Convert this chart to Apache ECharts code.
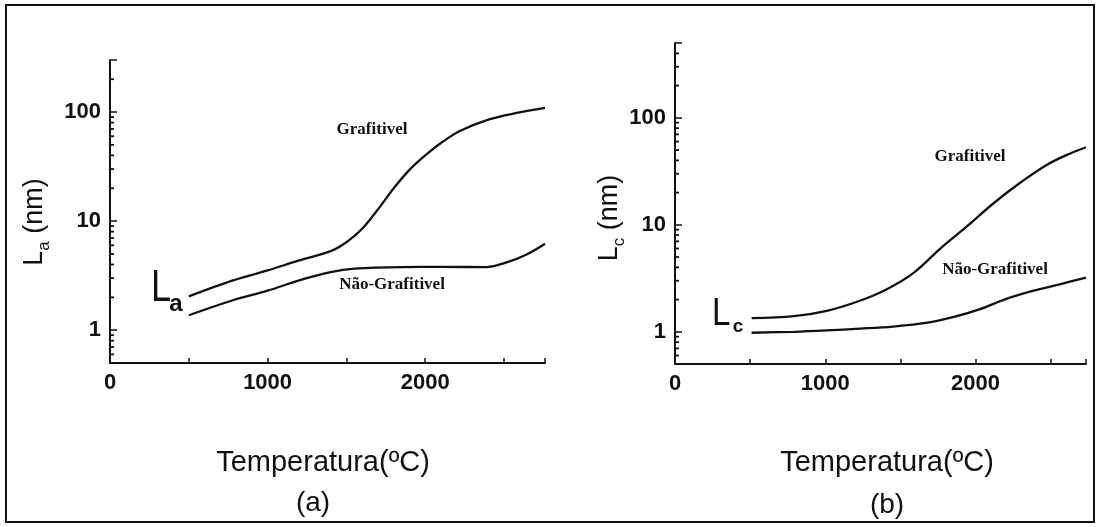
<!DOCTYPE html>
<html>
<head>
<meta charset="utf-8">
<script src="https://cdn.jsdelivr.net/npm/echarts@6/dist/echarts.min.js"></script>
<style>
  html, body { margin: 0; padding: 0; background: #fff; }
  #chart { width: 1099px; height: 527px; }
</style>
</head>
<body>
<div id="chart"></div>
<script>
// (a) La vs temperature
const aGrafT = [500, 780, 1000, 1200, 1400, 1500, 1600, 1700, 1800, 1900, 2000, 2100, 2220, 2410, 2580, 2760];
const aGrafL = [2.04, 2.86, 3.53, 4.36, 5.3, 6.4, 8.5, 12.8, 20, 29.5, 40, 52, 67, 86, 98, 109];
const aNaoT = [500, 780, 1000, 1200, 1400, 1550, 1850, 2100, 2390, 2520, 2650, 2760];
const aNaoL = [1.37, 1.88, 2.3, 2.86, 3.4, 3.66, 3.79, 3.8, 3.79, 4.2, 5.0, 6.2];
// (b) Lc vs temperature
const bGrafT = [510, 790, 1010, 1230, 1410, 1590, 1760, 1940, 2120, 2290, 2470, 2600, 2735];
const bGrafL = [1.34, 1.40, 1.57, 1.95, 2.5, 3.57, 5.9, 9.6, 15.9, 24.3, 36, 44.5, 53];
const bNaoT = [510, 790, 1010, 1230, 1450, 1670, 1850, 2030, 2200, 2380, 2560, 2735];
const bNaoL = [0.98, 1.0, 1.03, 1.07, 1.12, 1.21, 1.37, 1.63, 2.02, 2.41, 2.78, 3.21];

const xLabels = [0, 1000, 2000];
const yLabels = [1, 10, 100];
// log sub-ticks drawn along the y axes
const minorA = [0.6, 0.7, 0.8, 0.9, 2, 3, 4, 5, 6, 7, 8, 9, 20, 30, 40, 50, 60, 70, 80, 90, 200];
const minorB = [0.6, 0.7, 0.8, 0.9, 2, 3, 4, 5, 6, 7, 8, 9, 20, 30, 40, 50, 60, 70, 80, 90, 200, 300, 400];

const SANS = '"Liberation Sans", Arial, sans-serif';
const SERIF = '"Liberation Serif", "Times New Roman", serif';
const INK = '#111';

function pairs(xs, ys) {
  return xs.map((x, i) => [x, ys[i]]);
}

function xAxisOf(gridIndex, max) {
  return {
    type: 'value', gridIndex: gridIndex, min: 0, max: max, interval: 500,
    axisLine: { lineStyle: { color: INK, width: 2 } },
    axisTick: { inside: true, length: 5, lineStyle: { color: INK, width: 1.5 } },
    splitLine: { show: false },
    axisLabel: {
      margin: 9, color: INK, fontFamily: SANS, fontSize: 22, fontWeight: 'bold',
      formatter: v => xLabels.indexOf(v) >= 0 ? String(v) : ''
    }
  };
}

function yAxisOf(gridIndex, max) {
  return {
    type: 'log', gridIndex: gridIndex, logBase: 10, min: 0.5, max: max,
    axisLine: { lineStyle: { color: INK, width: 2 } },
    axisTick: { inside: true, length: 7, lineStyle: { color: INK, width: 1.5 } },
    splitLine: { show: false },
    axisLabel: {
      margin: 9, color: INK, fontFamily: SANS, fontSize: 22, fontWeight: 'bold',
      formatter: v => yLabels.some(t => Math.abs(t - v) < 1e-6) ? String(Math.round(v)) : ''
    }
  };
}

function curve(xi, data) {
  return {
    type: 'line', xAxisIndex: xi, yAxisIndex: xi, data: data,
    smooth: 0.35, showSymbol: false, silent: true,
    lineStyle: { color: INK, width: 2.3 }
  };
}

function minorTicks(xi, vals) {
  return {
    type: 'custom', xAxisIndex: xi, yAxisIndex: xi, silent: true,
    data: vals.map(v => [0, v]),
    renderItem: function (params, api) {
      const p = api.coord([0, api.value(1)]);
      return {
        type: 'line',
        shape: { x1: p[0], y1: p[1], x2: p[0] + 4, y2: p[1] },
        style: { stroke: INK, lineWidth: 1.8 }
      };
    }
  };
}

function txt(x, y, text, font, size, opts) {
  return Object.assign({
    type: 'text', x: x, y: y, silent: true,
    style: Object.assign({
      text: text, fontFamily: font, fontSize: size, fill: INK,
      align: 'center', verticalAlign: 'middle'
    }, (opts && opts.style) || {})
  }, (opts && opts.el) || {});
}

function yName(x, y, sub) {
  return {
    type: 'text', x: x, y: y, rotation: Math.PI / 2, silent: true,
    style: {
      text: '{L|L}{s|' + sub + '}{n| (nm)}',
      align: 'center', verticalAlign: 'middle', fill: INK,
      rich: {
        L: { fontFamily: SANS, fontSize: 27, verticalAlign: 'bottom', padding: [0, 0, 5, 0] },
        s: { fontFamily: SANS, fontSize: 17, verticalAlign: 'bottom' },
        n: { fontFamily: SANS, fontSize: 27, verticalAlign: 'bottom', padding: [0, 0, 5, 0] }
      }
    }
  };
}

const chart = echarts.init(document.getElementById('chart'));

const option = {
  backgroundColor: '#fff',
  animation: false,
  grid: [
    { left: 110, top: 60, width: 435, height: 303, containLabel: false, outerBoundsMode: 'none' },
    { left: 675, top: 43, width: 411, height: 321, containLabel: false, outerBoundsMode: 'none' }
  ],
  xAxis: [xAxisOf(0, 2760), xAxisOf(1, 2735)],
  yAxis: [yAxisOf(0, 300), yAxisOf(1, 500)],
  series: [
    curve(0, pairs(aGrafT, aGrafL)),
    curve(0, pairs(aNaoT, aNaoL)),
    curve(1, pairs(bGrafT, bGrafL)),
    curve(1, pairs(bNaoT, bNaoL)),
    minorTicks(0, minorA),
    minorTicks(1, minorB)
  ],
  graphic: [
    { type: 'rect', silent: true, shape: { x: 6, y: 5, width: 1088, height: 517 },
      style: { fill: 'none', stroke: INK, lineWidth: 2 } },
    // axis titles
    yName(37, 222, 'a'),
    yName(612, 218, 'c'),
    txt(323, 463, 'Temperatura(ºC)', SANS, 29),
    txt(313, 503, '(a)', SANS, 28),
    txt(887, 463, 'Temperatura(ºC)', SANS, 29),
    txt(887, 505, '(b)', SANS, 28),
    // curve labels
    txt(372, 130, 'Grafitivel', SERIF, 17, { style: { fontWeight: 'bold' } }),
    txt(392, 285, 'Não-Grafitivel', SERIF, 17, { style: { fontWeight: 'bold' } }),
    txt(970, 157, 'Grafitivel', SERIF, 17, { style: { fontWeight: 'bold' } }),
    txt(995, 270, 'Não-Grafitivel', SERIF, 17, { style: { fontWeight: 'bold' } }),
    // La / Lc markers at start of curves
    txt(151, 289, 'L', SANS, 44, { style: { align: 'left' }, el: { scaleX: 0.82 } }),
    txt(176, 304, 'a', SANS, 24, { style: { fontWeight: 'bold' } }),
    txt(712, 314, 'L', SANS, 39, { style: { align: 'left' }, el: { scaleX: 0.85 } }),
    txt(738, 327, 'c', SANS, 19, { style: { fontWeight: 'bold' } })
  ]
};

chart.setOption(option);
</script>
</body>
</html>
